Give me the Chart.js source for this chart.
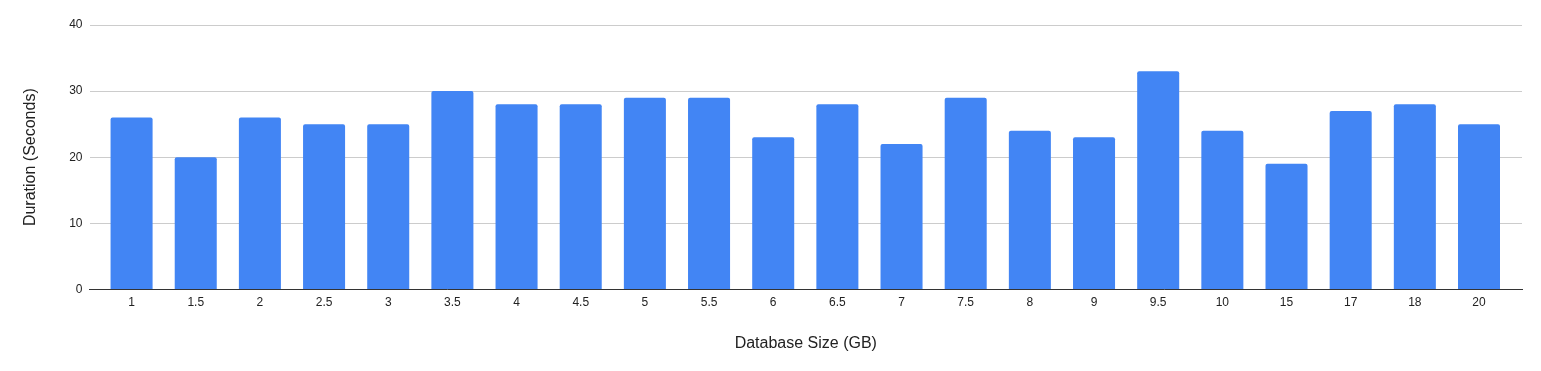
<!DOCTYPE html>
<html>
<head>
<meta charset="utf-8">
<script src="https://cdn.jsdelivr.net/npm/chart.js@4"></script>
<style>
  html, body { margin: 0; padding: 0; background: #fff; }
  #wrap { width: 1541px; height: 371px; }
</style>
</head>
<body>
<div id="wrap"><canvas id="chart" width="1541" height="371"></canvas></div>
<script>
const sizes = ['1', '1.5', '2', '2.5', '3', '3.5', '4', '4.5', '5', '5.5', '6', '6.5', '7', '7.5', '8', '9', '9.5', '10', '15', '17', '18', '20'];
const durations = [26, 20, 26, 25, 25, 30, 28, 28, 29, 29, 23, 28, 22, 29, 24, 23, 33, 24, 19, 27, 28, 25];
const yTicks = [0, 10, 20, 30, 40];

const font = "'Liberation Sans', Arial, sans-serif";

// bars sit on a linear x axis (one unit per category) so the plot can keep
// a little empty room at both ends, like the original
const points = durations.map((v, i) => ({ x: i, y: v }));

const ctx = document.getElementById('chart').getContext('2d');
const chart = new Chart(ctx, {
  type: 'bar',
  data: {
    datasets: [
      {
        label: 'Duration (Seconds)',
        data: points,
        backgroundColor: '#4285f4',
        borderWidth: 0,
        borderRadius: { topLeft: 2, topRight: 2 },
        borderSkipped: 'bottom',
        categoryPercentage: 0.655,
        barPercentage: 1
      }
    ]
  },
  options: {
    responsive: false,
    animation: false,
    layout: { padding: { left: 21, right: 19, top: 25, bottom: 18 } },
    plugins: {
      legend: { display: false },
      tooltip: { enabled: false }
    },
    scales: {
      x: {
        type: 'linear',
        offset: false,
        min: -0.655,
        max: sizes.length - 1 + 0.67,
        afterBuildTicks: (axis) => { axis.ticks = sizes.map((s, i) => ({ value: i })); },
        grid: { display: false, drawTicks: false },
        border: { display: true, color: '#333', width: 1 },
        ticks: {
          color: '#222', font: { family: font, size: 12 }, padding: 6, maxRotation: 0, autoSkip: false,
          callback: (v) => sizes[v]
        },
        title: { display: true, text: 'Database Size (GB)', color: '#222', font: { family: font, size: 16 }, padding: { top: 18, bottom: 0 } }
      },
      y: {
        min: 0,
        max: 40,
        afterBuildTicks: (axis) => { axis.ticks = yTicks.map(v => ({ value: v })); },
        grid: { color: '#cccccc', drawTicks: false },
        border: { display: false },
        ticks: { color: '#222', font: { family: font, size: 12 }, padding: 7 },
        title: { display: true, text: 'Duration (Seconds)', color: '#222', font: { family: font, size: 16 }, padding: { top: 0, bottom: 22 } }
      }
    }
  }
});
</script>
</body>
</html>
